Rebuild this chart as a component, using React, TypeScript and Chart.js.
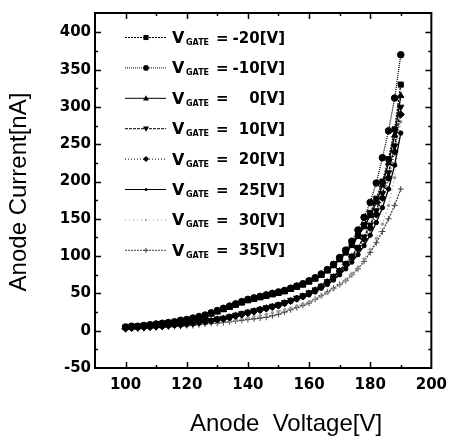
import React, { useEffect, useRef } from 'react';
import { Chart, registerables } from 'chart.js';

Chart.register(...registerables);

// Anode voltage [V]
const VOLTAGE = [100, 102, 104, 106, 108, 110, 112, 114, 116, 118, 120, 122, 124, 126, 128, 130, 132, 134, 136, 138, 140, 142, 144, 146, 148, 150, 152, 154, 156, 158, 160, 162, 164, 166, 168, 170, 172, 174, 176, 178, 180, 182, 184, 186, 188, 190];

// Anode current [nA] for each gate voltage
const I_GATE_M20 = [5, 5, 6, 7, 7, 8, 9, 10, 11, 13, 14, 16, 18, 20, 23, 26, 29, 32, 35, 38, 41, 43, 45, 47, 49, 51, 53, 56, 59, 62, 66, 70, 75, 81, 88, 96, 105, 116, 128, 142, 158, 177, 200, 230, 270, 330];
const I_GATE_M10 = [5, 6, 6, 7, 8, 9, 10, 11, 12, 14, 15, 17, 19, 21, 24, 27, 30, 33, 36, 39, 42, 44, 46, 48, 50, 52, 54, 57, 60, 63, 67, 71, 76, 82, 89, 98, 108, 120, 135, 152, 172, 198, 232, 268, 312, 370];
const I_GATE_0 = [4, 5, 5, 6, 7, 7, 8, 9, 10, 12, 13, 15, 17, 19, 22, 25, 28, 31, 34, 37, 40, 42, 44, 46, 48, 50, 52, 55, 58, 61, 65, 69, 74, 80, 87, 95, 104, 114, 126, 139, 154, 172, 195, 225, 262, 315];
const I_GATE_10 = [4, 4, 5, 5, 6, 6, 7, 8, 8, 9, 10, 11, 12, 13, 14, 16, 17, 19, 21, 23, 25, 27, 29, 31, 33, 35, 38, 41, 44, 47, 51, 55, 60, 66, 73, 81, 90, 100, 112, 126, 142, 161, 184, 212, 248, 300];
const I_GATE_20 = [3, 4, 4, 5, 5, 6, 6, 7, 8, 8, 9, 10, 11, 12, 13, 15, 16, 18, 20, 22, 24, 26, 28, 30, 32, 34, 37, 40, 43, 46, 50, 54, 59, 65, 72, 80, 89, 99, 110, 123, 138, 156, 178, 205, 240, 290];
const I_GATE_25 = [3, 3, 4, 4, 5, 5, 6, 7, 7, 8, 9, 10, 11, 12, 13, 14, 15, 17, 19, 21, 23, 25, 27, 29, 31, 33, 36, 39, 42, 45, 48, 52, 57, 62, 68, 75, 83, 92, 102, 114, 128, 145, 165, 190, 222, 265];
const I_GATE_30 = [3, 3, 3, 4, 4, 5, 5, 6, 6, 7, 7, 8, 9, 9, 10, 11, 12, 13, 14, 16, 17, 19, 20, 22, 24, 26, 28, 30, 33, 36, 39, 42, 46, 50, 55, 61, 68, 76, 85, 96, 109, 124, 143, 168, 205, 280];
const I_GATE_35 = [3, 3, 3, 3, 4, 4, 5, 5, 6, 6, 7, 7, 8, 9, 10, 10, 11, 12, 13, 14, 15, 16, 17, 18, 20, 22, 25, 28, 31, 34, 37, 42, 47, 52, 57, 62, 67, 75, 83, 93, 105, 118, 133, 150, 168, 190];

const GATE_LABELS = ['-20', '-10', '0', '10', '20', '25', '30', '35'];
const SERIES_VALUES = [I_GATE_M20, I_GATE_M10, I_GATE_0, I_GATE_10, I_GATE_20, I_GATE_25, I_GATE_30, I_GATE_35];

const X_TICKS = [100, 120, 140, 160, 180, 200];
const X_MINOR = [100, 110, 120, 130, 140, 150, 160, 170, 180, 190];
const Y_TICKS = [-50, 0, 50, 100, 150, 200, 250, 300, 350, 400];
const Y_MINOR = [-25, 0, 25, 50, 75, 100, 125, 150, 175, 200, 225, 250, 275, 300, 325, 350, 375, 400];

const X_TITLE = 'Anode  Voltage[V]';
const Y_TITLE = 'Anode Current[nA]';

// styles
const STYLES = [
  { color: '#000', dash: [2, 1], point: 'rect', r: 3.6, lr: 3, rot: 0 },
  { color: '#000', dash: [1, 1], point: 'circle', r: 3.3, lr: 2.8, rot: 0 },
  { color: '#000', dash: [], point: 'triangle', r: 3.6, lr: 3, rot: 0 },
  { color: '#000', dash: [3, 1], point: 'triangle', r: 3.6, lr: 3, rot: 180 },
  { color: '#000', dash: [1, 2], point: 'rectRot', r: 3.6, lr: 3, rot: 0 },
  { color: '#000', dash: [], point: 'circle', r: 2.2, lr: 1.5, rot: 0 },
  { color: '#999', dash: [1, 3], point: 'circle', r: 1.3, lr: 1, rot: 0 },
  { color: '#444', dash: [2, 1], point: 'cross', r: 3, lr: 2.5, rot: 0 },
];

function drawMarker(ctx: CanvasRenderingContext2D, style: string, x: number, y: number, r: number, rot: number, color: string) {
  ctx.save();
  ctx.setLineDash([]);
  ctx.fillStyle = color;
  ctx.strokeStyle = color;
  ctx.lineWidth = 1;
  ctx.beginPath();
  if (style === 'rect') {
    const h = r * 0.85;
    ctx.rect(x - h, y - h, 2 * h, 2 * h);
    ctx.fill();
  } else if (style === 'circle') {
    ctx.arc(x, y, r, 0, Math.PI * 2);
    ctx.fill();
  } else if (style === 'triangle') {
    const s = rot === 180 ? -1 : 1;
    ctx.moveTo(x, y - s * r);
    ctx.lineTo(x - r, y + s * r * 0.7);
    ctx.lineTo(x + r, y + s * r * 0.7);
    ctx.closePath();
    ctx.fill();
  } else if (style === 'rectRot') {
    ctx.moveTo(x, y - r);
    ctx.lineTo(x + r, y);
    ctx.lineTo(x, y + r);
    ctx.lineTo(x - r, y);
    ctx.closePath();
    ctx.fill();
  } else if (style === 'cross') {
    ctx.moveTo(x - r, y);
    ctx.lineTo(x + r, y);
    ctx.moveTo(x, y - r);
    ctx.lineTo(x, y + r);
    ctx.stroke();
  }
  ctx.restore();
}

const framePlugin = {
  id: 'framePlugin',
  afterDraw(chart: any) {
    const { ctx, chartArea: a, scales } = chart;
    const xs = scales.x;
    const ys = scales.y;
    ctx.save();
    ctx.strokeStyle = '#000';
    ctx.lineWidth = 2;
    ctx.setLineDash([]);
    ctx.strokeRect(a.left, a.top, a.right - a.left, a.bottom - a.top);

    ctx.lineWidth = 1.5;
    ctx.beginPath();
    for (const v of X_MINOR) {
      const px = Math.round(xs.getPixelForValue(v)) + 0.5;
      const len = X_TICKS.includes(v) ? 6 : 3;
      ctx.moveTo(px, a.bottom);
      ctx.lineTo(px, a.bottom - len);
      ctx.moveTo(px, a.top);
      ctx.lineTo(px, a.top + len);
    }
    for (const v of Y_MINOR) {
      const py = Math.round(ys.getPixelForValue(v)) + 0.5;
      const len = Y_TICKS.includes(v) ? 6 : 3;
      ctx.moveTo(a.left, py);
      ctx.lineTo(a.left + len, py);
      ctx.moveTo(a.right, py);
      ctx.lineTo(a.right - len, py);
    }
    ctx.stroke();

    // legend
    const rowTop = 37;
    const rowGap = 30.4;
    GATE_LABELS.forEach((g, i) => {
      const st = STYLES[i];
      const yy = rowTop + rowGap * i;
      ctx.save();
      ctx.strokeStyle = st.color;
      ctx.lineWidth = 1;
      ctx.setLineDash(st.dash);
      ctx.beginPath();
      ctx.moveTo(125, yy + 0.5);
      ctx.lineTo(166, yy + 0.5);
      ctx.stroke();
      ctx.restore();
      drawMarker(ctx, st.point, 146, yy + 0.5, st.lr, st.rot, st.color);

      ctx.fillStyle = '#000';
      ctx.textBaseline = 'alphabetic';
      ctx.textAlign = 'left';
      ctx.font = 'bold 16px "DejaVu Sans"';
      ctx.fillText('V', 172, yy + 6);
      ctx.font = 'bold 8px "DejaVu Sans"';
      ctx.fillText('GATE', 186, yy + 8);
      ctx.font = 'bold 15px "DejaVu Sans"';
      ctx.fillText('=', 216, yy + 5.5);
      ctx.textAlign = 'right';
      ctx.fillText(g + '[V]', 285, yy + 5.5);
    });

    // axis titles
    ctx.fillStyle = '#000';
    ctx.font = '24px "Liberation Sans"';
    ctx.textAlign = 'center';
    ctx.textBaseline = 'alphabetic';
    ctx.fillText(X_TITLE, 286, 431);
    ctx.save();
    ctx.translate(26, 192);
    ctx.rotate(-Math.PI / 2);
    ctx.fillText(Y_TITLE, 0, 0);
    ctx.restore();
    ctx.restore();
  },
};

export default function App() {
  const ref = useRef<HTMLCanvasElement>(null);
  useEffect(() => {
    const chart = new Chart(ref.current as HTMLCanvasElement, {
      type: 'line',
      data: {
        datasets: SERIES_VALUES.map((vals, i) => ({
          label: 'V_GATE = ' + GATE_LABELS[i] + '[V]',
          data: VOLTAGE.map((v, j) => ({ x: v, y: vals[j] })),
          borderColor: STYLES[i].color,
          backgroundColor: STYLES[i].color,
          borderWidth: 1.3,
          borderDash: STYLES[i].dash,
          pointStyle: STYLES[i].point as any,
          pointRadius: STYLES[i].r,
          pointRotation: STYLES[i].rot,
          pointBorderWidth: 1,
          pointBorderColor: STYLES[i].color,
          pointBackgroundColor: STYLES[i].color,
          tension: 0,
        })),
      },
      options: {
        animation: false,
        responsive: false,
        layout: { padding: { left: 0, top: 5, right: 17, bottom: 0 } },
        plugins: { legend: { display: false }, tooltip: { enabled: false }, title: { display: false } },
        scales: {
          x: {
            type: 'linear',
            min: 90,
            max: 200,
            grid: { display: false, drawTicks: false },
            border: { display: false },
            afterBuildTicks: (s: any) => { s.ticks = X_TICKS.map((v) => ({ value: v })); },
            afterFit: (s: any) => { s.height = 72; },
            ticks: {
              autoSkip: false,
              maxRotation: 0,
              padding: 8,
              color: '#000',
              font: { family: 'DejaVu Sans', size: 15, weight: 'bold' },
            },
          },
          y: {
            type: 'linear',
            min: -50,
            max: 426,
            grid: { display: false, drawTicks: false },
            border: { display: false },
            afterBuildTicks: (s: any) => { s.ticks = Y_TICKS.map((v) => ({ value: v })); },
            afterFit: (s: any) => { s.width = 95; },
            ticks: {
              autoSkip: false,
              padding: 4,
              color: '#000',
              font: { family: 'DejaVu Sans', size: 15, weight: 'bold' },
            },
          },
        },
      },
      plugins: [framePlugin],
    } as any);
    return () => chart.destroy();
  }, []);
  return (
    <div style={{ position: 'absolute', left: 0, top: 0, width: 455, height: 440, background: '#fff' }}>
      <canvas ref={ref} width={455} height={440} style={{ display: 'block' }} />
    </div>
  );
}
